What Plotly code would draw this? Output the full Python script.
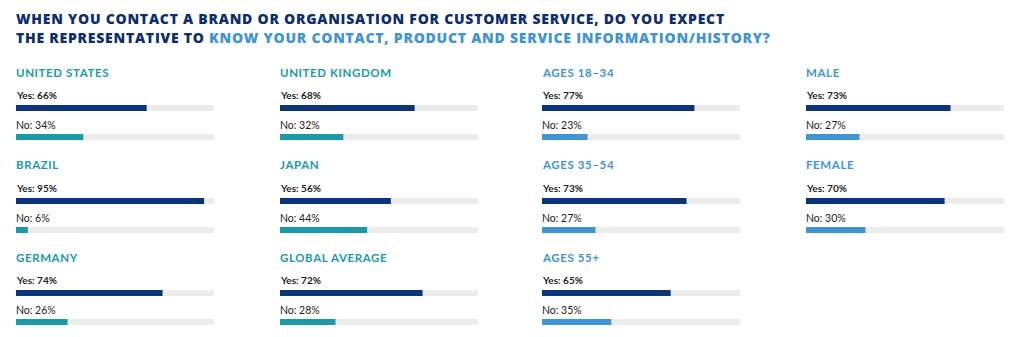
import plotly.graph_objects as go

# ---- data ----
groups = ["UNITED STATES", "BRAZIL", "GERMANY",
          "UNITED KINGDOM", "JAPAN", "GLOBAL AVERAGE",
          "AGES 18–34", "AGES 35–54", "AGES 55+",
          "MALE", "FEMALE"]
yes_pct = [66, 95, 74, 68, 56, 72, 77, 73, 65, 73, 70]
no_pct = [34, 6, 26, 32, 44, 28, 23, 27, 35, 27, 30]
is_country = [True, True, True, True, True, True, False, False, False, False, False]

title_1 = "WHEN YOU CONTACT A BRAND OR ORGANISATION FOR CUSTOMER SERVICE, DO YOU EXPECT"
title_2a = "THE REPRESENTATIVE TO "
title_2b = "KNOW YOUR CONTACT, PRODUCT AND SERVICE INFORMATION/HISTORY?"

# ---- layout / style ----
W, H = 1024, 337
col_x = [16, 280, 542, 806]
track_w = 198
row_yes = [108, 201, 293]
gap = 29          # px between yes and no bar centers
bar_px = 6
NAVY = "#0b3577"
TEAL = "#1b9aab"
LBLUE = "#3f94d2"
TRACK = "#ececec"
TXT = "#222222"
FONT = "Lato"
TFONT = "Open Sans"
SHIFT = -1

fig = go.Figure()
annotations = []
unit = gap  # px per y unit

for i, g in enumerate(groups):
    if i < 9:
        c, r = i // 3, i % 3
    else:
        c, r = 3, i - 9
    ax = i + 1
    xn = "x" if ax == 1 else f"x{ax}"
    yn = "y" if ax == 1 else f"y{ax}"
    x0 = col_x[c]
    py = row_yes[r]
    top = py - unit / 2
    bottom = py + gap + unit / 2
    no_col = TEAL if is_country[i] else LBLUE
    head_col = TEAL if is_country[i] else LBLUE

    fig.add_trace(go.Bar(x=[100, 100], y=[1, 0], orientation="h",
                         marker=dict(color=TRACK, line=dict(width=0)),
                         width=bar_px / unit, xaxis=xn, yaxis=yn,
                         hoverinfo="skip", showlegend=False))
    fig.add_trace(go.Bar(x=[yes_pct[i], no_pct[i]], y=[1, 0], orientation="h",
                         marker=dict(color=[NAVY, no_col], line=dict(width=0)),
                         width=bar_px / unit, xaxis=xn, yaxis=yn,
                         showlegend=False))
    axis_common = dict(visible=False, fixedrange=True)
    fig.layout[("xaxis" if ax == 1 else f"xaxis{ax}")] = dict(
        domain=[x0 / W, (x0 + track_w) / W], range=[0, 100],
        anchor=yn, **axis_common)
    fig.layout[("yaxis" if ax == 1 else f"yaxis{ax}")] = dict(
        domain=[1 - bottom / H, 1 - top / H], range=[-0.5, 1.5],
        anchor=xn, **axis_common)

    annotations.append(dict(
        x=x0 / W, y=1 - (py - 36) / H, xref="paper", yref="paper",
        xanchor="left", yanchor="middle", xshift=SHIFT, borderpad=0,
        text=f"<b><span style='letter-spacing:0.6px'>{g}</span></b>", showarrow=False,
        font=dict(family=FONT, size=11.5, color=head_col)))
    annotations.append(dict(
        x=0, y=1 + 13 / unit, xref=xn, yref=yn, xanchor="left", yanchor="middle",
        xshift=SHIFT, borderpad=0,
        text=f"<b>Yes: {yes_pct[i]}%</b>", showarrow=False,
        font=dict(family=FONT, size=10, color=TXT)))
    annotations.append(dict(
        x=0, y=12 / unit, xref=xn, yref=yn, xanchor="left", yanchor="middle",
        xshift=SHIFT, borderpad=0,
        text=f"No: {no_pct[i]}%", showarrow=False,
        font=dict(family=FONT, size=10.5, color=TXT)))

annotations.append(dict(
    x=16 / W, y=1 - 19 / H, xref="paper", yref="paper", xanchor="left", yanchor="middle",
    align="left", showarrow=False, xshift=SHIFT, borderpad=0,
    text=f"<span style='letter-spacing:0.75px'>{title_1}</span>",
    font=dict(family=TFONT, size=14, color="#0d2e6c", weight=800)))
annotations.append(dict(
    x=16 / W, y=1 - 37 / H, xref="paper", yref="paper", xanchor="left", yanchor="middle",
    align="left", showarrow=False, xshift=SHIFT, borderpad=0,
    text=(f"<span style='letter-spacing:0.75px'>{title_2a}"
          f"<span style='color:{LBLUE}'>{title_2b}</span></span>"),
    font=dict(family=TFONT, size=14, color="#0d2e6c", weight=800)))

fig.update_layout(width=W, height=H, autosize=False,
                  margin=dict(l=0, r=0, t=0, b=0),
                  paper_bgcolor="white", plot_bgcolor="white",
                  barmode="overlay", annotations=annotations)

fig.write_html("out.html", config={"displayModeBar": False})
